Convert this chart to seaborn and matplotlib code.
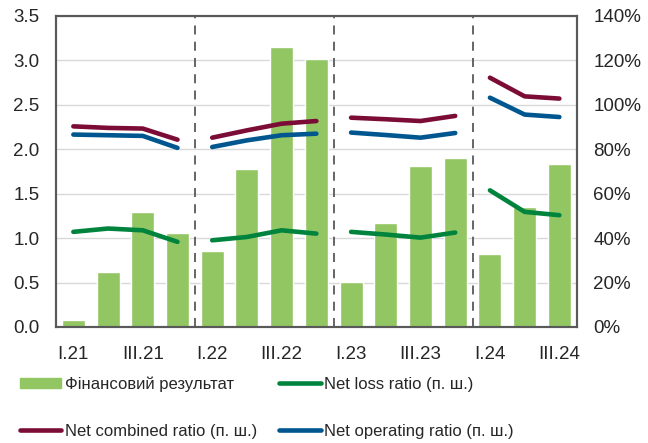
import matplotlib
matplotlib.use('Agg')
import matplotlib.pyplot as plt
import seaborn as sns
import numpy as np
import pandas as pd
from matplotlib.patches import Patch
from matplotlib.lines import Line2D

# data
quarters = ['I.21', 'II.21', 'III.21', 'IV.21',
            'I.22', 'II.22', 'III.22', 'IV.22',
            'I.23', 'II.23', 'III.23', 'IV.23',
            'I.24', 'II.24', 'III.24']
years = ['2021'] * 4 + ['2022'] * 4 + ['2023'] * 4 + ['2024'] * 3
fin_result = [0.08, 0.62, 1.29, 1.06,
              0.86, 1.78, 3.15, 3.01,
              0.51, 1.17, 1.81, 1.90,
              0.82, 1.35, 1.83]
net_loss = [42.8, 44.3, 43.5, 38.3,
            39.0, 40.5, 43.5, 42.0,
            42.8, 41.6, 40.2, 42.5,
            61.5, 51.8, 50.3]
net_combined = [90.3, 89.6, 89.3, 84.3,
                85.2, 88.5, 91.5, 92.7,
                94.2, 93.5, 92.7, 95.0,
                112.2, 103.8, 102.8]
net_operating = [86.6, 86.3, 86.0, 80.6,
                 81.0, 84.0, 86.3, 87.0,
                 87.5, 86.4, 85.2, 87.3,
                 103.2, 95.6, 94.5]

labels = {
    'fin': 'Фінансовий результат',
    'loss': 'Net loss ratio (п. ш.)',
    'comb': 'Net combined ratio (п. ш.)',
    'oper': 'Net operating ratio (п. ш.)',
}

c_bar = '#92C663'
c_loss = '#00843D'
c_comb = '#7B0C36'
c_oper = '#00568F'
c_axis = '#595959'

df = pd.DataFrame({'pos': np.arange(len(quarters)), 'quarter': quarters,
                   'year': years, 'fin': fin_result, 'loss': net_loss,
                   'comb': net_combined, 'oper': net_operating})

sns.set_style('white')
plt.rcParams['font.family'] = ['Liberation Sans', 'DejaVu Sans']
plt.rcParams['font.size'] = 12

fig, ax = plt.subplots(figsize=(6.48, 4.43), dpi=100)
fig.subplots_adjust(left=0.0864, right=0.890, top=0.964, bottom=0.262)

sns.barplot(data=df, x='quarter', y='fin', color=c_bar, saturation=1,
            width=0.66, ax=ax)
ax.set_axisbelow(True)
ax.yaxis.grid(True, color='#D9D9D9', lw=1)
ax.set_ylim(0, 3.5)
ax.set_yticks(np.arange(0, 3.51, 0.5))
ax.set_yticklabels([f'{v:.1f}' for v in np.arange(0, 3.51, 0.5)])
ax.set_xlabel('')
ax.set_ylabel('')

# year separators
for x in [3.5, 7.5, 11.5]:
    ax.axvline(x, color=c_axis, lw=1.3, ls=(0, (5, 4)), zorder=1)

ax2 = ax.twinx()
for col, c in [('loss', c_loss), ('comb', c_comb), ('oper', c_oper)]:
    sns.lineplot(data=df, x='pos', y=col, units='year', estimator=None,
                 color=c, lw=3.3, solid_capstyle='round', ax=ax2)
ax2.set_ylim(0, 140)
ax2.set_yticks(np.arange(0, 141, 20))
ax2.set_yticklabels([f'{v}%' for v in range(0, 141, 20)])
ax2.set_ylabel('')
ax2.set_xlabel('')

ax.set_xlim(-0.5, len(quarters) - 0.5)
ax.set_xticks(np.arange(0, len(quarters), 2))
ax.set_xticklabels(quarters[::2])
ax.set_xticks(np.arange(0.5, len(quarters) - 1, 1), minor=True)
ax.tick_params(axis='x', which='major', length=0, pad=14, labelsize=13.5)
ax.tick_params(axis='x', which='minor', direction='in', length=4,
               color=c_axis, width=1)
ax.tick_params(axis='y', length=0, pad=12, labelsize=13.5)
ax2.tick_params(axis='y', length=0, pad=12, labelsize=13.5)

for a in (ax, ax2):
    for s in a.spines.values():
        s.set_color(c_axis)
        s.set_linewidth(1.5)
        s.set_visible(True)

handles = [Patch(color=c_bar),
           Line2D([], [], color=c_comb, lw=3.3, solid_capstyle='round'),
           Line2D([], [], color=c_loss, lw=3.3, solid_capstyle='round'),
           Line2D([], [], color=c_oper, lw=3.3, solid_capstyle='round')]
names = [labels['fin'], labels['comb'], labels['loss'], labels['oper']]
fig.legend(handles, names, ncol=2, loc='lower left',
           bbox_to_anchor=(0.02, -0.005), frameon=False, fontsize=12,
           handlelength=2.5, handleheight=0.6, handletextpad=0.2,
           columnspacing=1.35, labelspacing=1.9, borderaxespad=0)

fig.savefig('out.png', dpi=100)
